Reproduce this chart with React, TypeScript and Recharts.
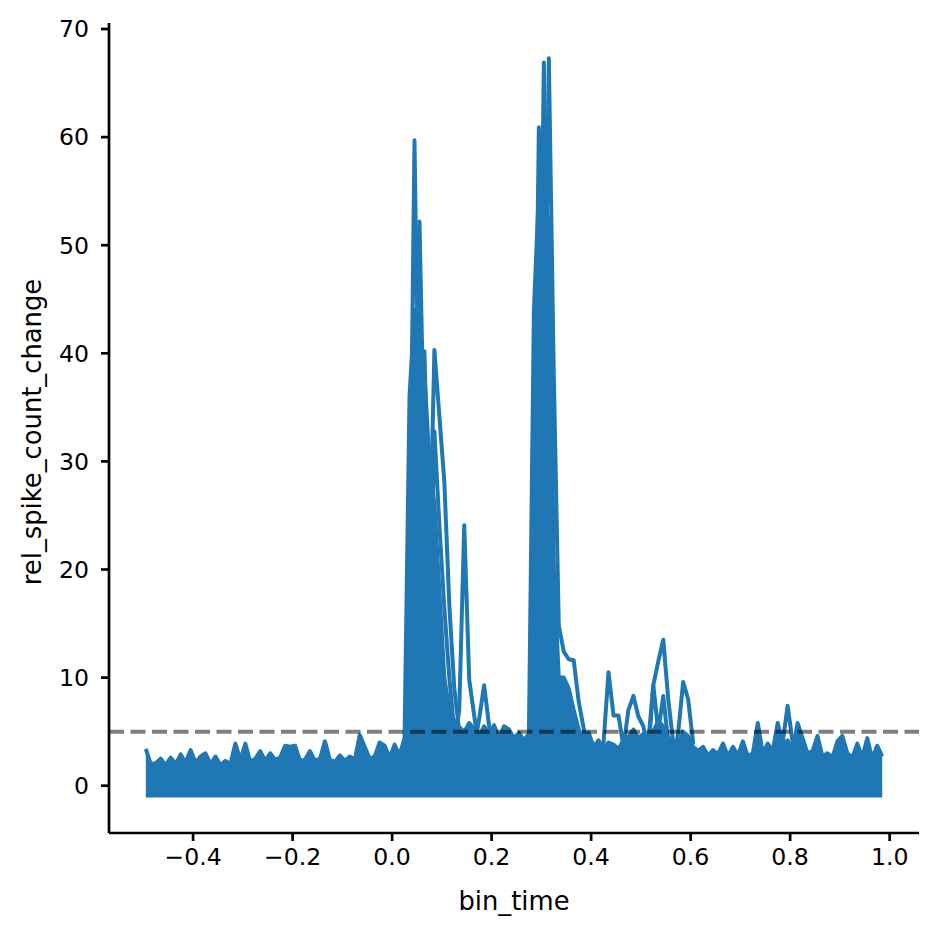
import { ComposedChart, Area, Line, XAxis, YAxis, ReferenceLine, Label } from 'recharts'

// bin centres (s)
const BIN_TIME = [
  -0.495, -0.485, -0.475, -0.465, -0.455, -0.445, -0.435, -0.425, -0.415, -0.405,
  -0.395, -0.385, -0.375, -0.365, -0.355, -0.345, -0.335, -0.325, -0.315, -0.305,
  -0.295, -0.285, -0.275, -0.265, -0.255, -0.245, -0.235, -0.225, -0.215, -0.205,
  -0.195, -0.185, -0.175, -0.165, -0.155, -0.145, -0.135, -0.125, -0.115, -0.105,
  -0.095, -0.085, -0.075, -0.065, -0.055, -0.045, -0.035, -0.025, -0.015, -0.005,
  0.005, 0.015, 0.025, 0.035, 0.045, 0.055, 0.065, 0.075, 0.085, 0.095,
  0.105, 0.115, 0.125, 0.135, 0.145, 0.155, 0.165, 0.175, 0.185, 0.195,
  0.205, 0.215, 0.225, 0.235, 0.245, 0.255, 0.265, 0.275, 0.285, 0.295,
  0.305, 0.315, 0.325, 0.335, 0.345, 0.355, 0.365, 0.375, 0.385, 0.395,
  0.405, 0.415, 0.425, 0.435, 0.445, 0.455, 0.465, 0.475, 0.485, 0.495,
  0.505, 0.515, 0.525, 0.535, 0.545, 0.555, 0.565, 0.575, 0.585, 0.595,
  0.605, 0.615, 0.625, 0.635, 0.645, 0.655, 0.665, 0.675, 0.685, 0.695,
  0.705, 0.715, 0.725, 0.735, 0.745, 0.755, 0.765, 0.775, 0.785, 0.795,
  0.805, 0.815, 0.825, 0.835, 0.845, 0.855, 0.865, 0.875, 0.885, 0.895,
  0.905, 0.915, 0.925, 0.935, 0.945, 0.955, 0.965, 0.975, 0.985,
]

// upper edge of the dense bundle of unit traces, per bin
const BAND_TOP = [
  3.4, 2.0, 2.1, 2.5, 1.9, 2.6, 2.0, 2.9, 2.1, 3.3,
  2.1, 2.7, 3.0, 2.0, 2.7, 1.9, 2.3, 2.0, 3.9, 2.4,
  3.9, 2.2, 2.5, 3.2, 2.3, 3.0, 2.4, 2.6, 3.7, 3.6,
  3.7, 2.3, 2.4, 3.2, 2.3, 2.5, 4.1, 2.4, 2.2, 2.8,
  2.3, 2.7, 2.4, 4.7, 3.6, 2.5, 2.7, 4.0, 3.7, 2.6,
  3.8, 2.8, 4.4, 36, 44, 42, 38, 30, 26, 18,
  10, 7, 6, 5.4, 5.0, 5.8, 5.2, 4.6, 5.5, 4.8,
  5.6, 4.3, 5.5, 5.2, 4.4, 4.9, 4.2, 4.8, 44, 55,
  55, 52, 20, 10, 10, 9, 7, 5.2, 4.3, 4.9,
  3.6, 4.2, 3.3, 4.0, 3.8, 3.4, 4.2, 4.5, 5.2, 4.4,
  4.8, 4.0, 5.0, 6.0, 5.5, 4.5, 4.0, 3.6, 5.0, 4.6,
  3.6, 3.2, 3.6, 2.8, 3.3, 2.9, 3.9, 2.7, 3.6, 2.8,
  4.1, 2.7, 3.0, 5.8, 3.0, 3.9, 3.2, 5.8, 3.8, 4.2,
  3.3, 5.8, 4.4, 3.0, 3.2, 4.6, 2.7, 3.0, 2.6, 4.1,
  4.6, 3.0, 2.6, 3.9, 2.6, 4.4, 2.5, 3.7, 2.7,
]
// lowest value reached by the traces (no spikes in bin)
const FLOOR = -0.9

// individual units that stand out above the bundle
const UNIT_A = { t: [0.025, 0.035, 0.045, 0.055], v: [3, 20, 59.7, 28] }
const UNIT_B = { t: [0.035, 0.045, 0.055, 0.065], v: [10, 25, 52.2, 30] }
const UNIT_C = { t: [0.045, 0.055, 0.065, 0.075], v: [15, 30, 40.2, 22] }
const UNIT_D = { t: [0.065, 0.075, 0.085, 0.095, 0.105, 0.115, 0.125, 0.135], v: [10, 20, 40.3, 34.2, 28.1, 16.7, 9, 5] }
const UNIT_E = { t: [0.065, 0.075, 0.085, 0.095, 0.105, 0.115, 0.125], v: [8, 14, 32.8, 24.1, 16.4, 10, 5] }
const UNIT_F = { t: [0.115, 0.125, 0.135, 0.145, 0.155, 0.165, 0.175], v: [3, 4, 7, 24.1, 9.8, 6.5, 3] }
const UNIT_G = { t: [0.155, 0.165, 0.175, 0.185, 0.195, 0.205], v: [3, 3.5, 6.2, 9.3, 5.5, 3] }
const UNIT_H = { t: [0.275, 0.285, 0.295, 0.305], v: [3, 25, 60.9, 30] }
const UNIT_I = { t: [0.285, 0.295, 0.305, 0.315, 0.325], v: [10, 30, 66.9, 35, 15] }
const UNIT_J = { t: [0.295, 0.305, 0.315, 0.325, 0.335, 0.345, 0.355, 0.365, 0.375, 0.385, 0.395], v: [20, 30, 67.3, 37.9, 14.8, 12.4, 11.7, 11.6, 7.8, 5.3, 3] }
const UNIT_K = { t: [0.415, 0.425, 0.435, 0.445, 0.455, 0.465, 0.475, 0.485, 0.495, 0.505, 0.515], v: [2, 4, 10.5, 6.5, 6.5, 3.6, 7.0, 8.3, 6.4, 5.5, 3] }
const UNIT_L = { t: [0.505, 0.515, 0.525, 0.535, 0.545, 0.555, 0.565], v: [2, 4, 9.3, 11.5, 13.5, 8, 4] }
const UNIT_M = { t: [0.515, 0.525, 0.535, 0.545, 0.555], v: [3, 9.3, 5, 8.3, 4] }
const UNIT_N = { t: [0.565, 0.575, 0.585, 0.595, 0.605], v: [2, 4.9, 9.6, 8.0, 4] }
const UNIT_O = { t: [0.785, 0.795, 0.805], v: [4, 7.4, 4] }

const UNITS = [UNIT_A, UNIT_B, UNIT_C, UNIT_D, UNIT_E, UNIT_F, UNIT_G, UNIT_H, UNIT_I, UNIT_J, UNIT_K, UNIT_L, UNIT_M, UNIT_N, UNIT_O]

const X_TICKS = [-0.4, -0.2, 0.0, 0.2, 0.4, 0.6, 0.8, 1.0]
const Y_TICKS = [0, 10, 20, 30, 40, 50, 60, 70]
const THRESHOLD = 5

const BLUE = '#1f77b4'
const FONT = 'DejaVu Sans'
const LW = 4

const fmtX = (v: number) => v.toFixed(1).replace('-', '\u2212')

export default function App() {
  const bandData = BIN_TIME.map((t, i) => ({ t, band: [FLOOR, BAND_TOP[i]] }))
  const tickStyle = { fill: '#000', fontSize: 23.6, fontFamily: FONT }

  return (
    <div style={{ position: 'absolute', left: 0, top: 0, width: 938, height: 935, background: '#fff' }}>
      <ComposedChart width={938} height={935} data={bandData} margin={{ top: 23, right: 19, bottom: 0, left: 0 }}>
        <XAxis
          dataKey="t"
          type="number"
          domain={[-0.569, 1.059]}
          allowDataOverflow
          ticks={X_TICKS}
          tickFormatter={fmtX}
          height={102}
          tickSize={8}
          tickMargin={7}
          tick={tickStyle}
          axisLine={{ stroke: '#000', strokeWidth: 2.7 }}
          tickLine={{ stroke: '#000', strokeWidth: 2.7 }}
        >
          <Label
            content={({ viewBox }: any) => (
              <text x={viewBox.x + viewBox.width / 2} y={viewBox.y + 77} textAnchor="middle" fontSize={25.8} fontFamily={FONT} fill="#000">
                bin_time
              </text>
            )}
          />
        </XAxis>
        <YAxis
          type="number"
          domain={[-4.375, 70.555]}
          allowDataOverflow
          ticks={Y_TICKS}
          width={109}
          tickSize={8}
          tickMargin={12}
          tick={tickStyle}
          axisLine={{ stroke: '#000', strokeWidth: 2.7 }}
          tickLine={{ stroke: '#000', strokeWidth: 2.7 }}
        >
          <Label
            content={({ viewBox }: any) => {
              const cy = viewBox.y + viewBox.height / 2 + 4
              return (
                <text x={41} y={cy} transform={`rotate(-90 41 ${cy})`} textAnchor="middle" fontSize={25.8} fontFamily={FONT} fill="#000">
                  rel_spike_count_change
                </text>
              )
            }}
          />
        </YAxis>

        {/* dense bundle of all unit traces */}
        <Area
          dataKey="band"
          type="linear"
          stroke={BLUE}
          strokeWidth={LW}
          strokeLinejoin="round"
          fill={BLUE}
          fillOpacity={1}
          dot={false}
          activeDot={false}
          isAnimationActive={false}
        />

        {UNITS.map((u, k) => (
          <Line
            key={k}
            data={u.t.map((t, i) => ({ t, v: u.v[i] }))}
            dataKey="v"
            type="linear"
            stroke={BLUE}
            strokeWidth={LW}
            strokeLinejoin="round"
            strokeLinecap="round"
            dot={false}
            activeDot={false}
            isAnimationActive={false}
          />
        ))}

        <ReferenceLine y={THRESHOLD} stroke="#000" strokeOpacity={0.5} strokeWidth={4} strokeDasharray="15 6.5" />
      </ComposedChart>
    </div>
  )
}
